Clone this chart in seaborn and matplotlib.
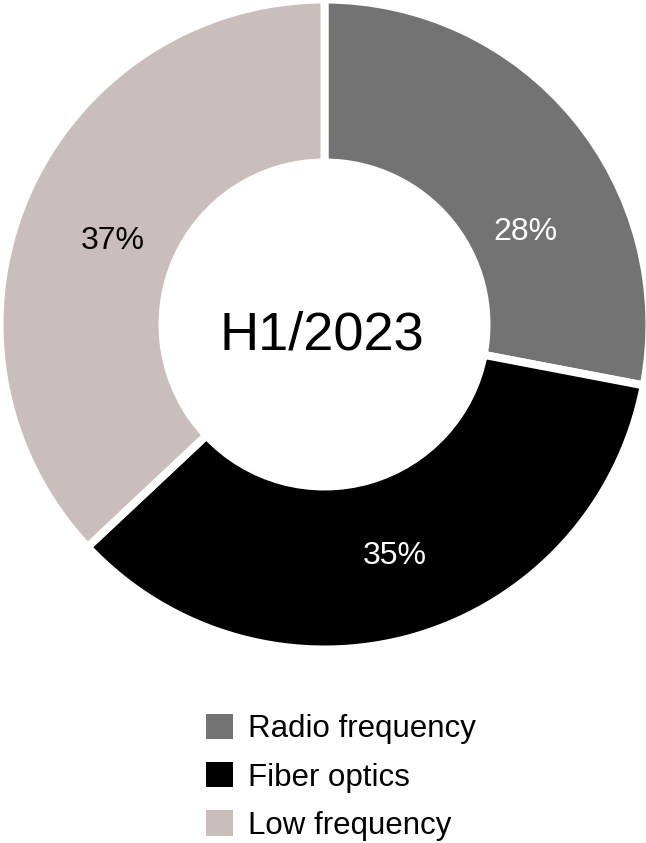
import matplotlib
matplotlib.use("Agg")
import matplotlib.pyplot as plt
import seaborn as sns

# ─────────────────────────────────────────────
# DATA
# ─────────────────────────────────────────────
segments    = ["Radio frequency", "Fiber optics", "Low frequency"]
shares      = [28, 35, 37]
colors      = ["#737373", "#000000", "#C9BEBB"]
pct_colors  = ["white", "white", "black"]
center_text = "H1/2023"

# label positions in pixel coords (x, y from top) as placed in the original
pct_pos = [(525, 232), (395, 556), (113, 241)]

W, H = 646, 843
DPI = 100

sns.set_theme(style="white")
plt.rcParams["font.family"] = ["Liberation Sans", "DejaVu Sans"]

fig = plt.figure(figsize=(W / DPI, H / DPI), dpi=DPI)
ax = fig.add_axes([0, 0, 1, 1])

# axes in pixel units, y up
edge_px = 8
cx, cy = 324.5, H - 324.5
outer = 321 + edge_px / 2
inner = 166 - edge_px / 2

wedges, _ = ax.pie(
    shares,
    colors=colors,
    startangle=90,
    counterclock=False,
    center=(cx, cy),
    radius=outer,
    wedgeprops=dict(width=outer - inner, edgecolor="white",
                    linewidth=edge_px * 72 / DPI),
)

for val, (px, py), c in zip(shares, pct_pos, pct_colors):
    ax.text(px, H - py, f"{val}%", ha="center", va="center",
            fontsize=23, color=c)

ax.text(cx - 3, H - 349, center_text, ha="center", va="baseline",
        fontsize=39, color="black")

ax.set_xlim(0, W)
ax.set_ylim(0, H)
ax.set_aspect("equal")
ax.axis("off")

leg = ax.legend(
    wedges, segments,
    loc="upper left",
    bbox_to_anchor=(206 / W, 1 - 714 / H),
    bbox_transform=fig.transFigure,
    frameon=False,
    fontsize=22.5,
    labelcolor="black",
    handlelength=0.86,
    handleheight=0.86,
    handletextpad=0.48,
    labelspacing=0.57,
    borderpad=0,
    borderaxespad=0,
)
# legend patches without white edges
for h in leg.get_patches():
    h.set_edgecolor("none")

fig.savefig("out.png", dpi=DPI)
